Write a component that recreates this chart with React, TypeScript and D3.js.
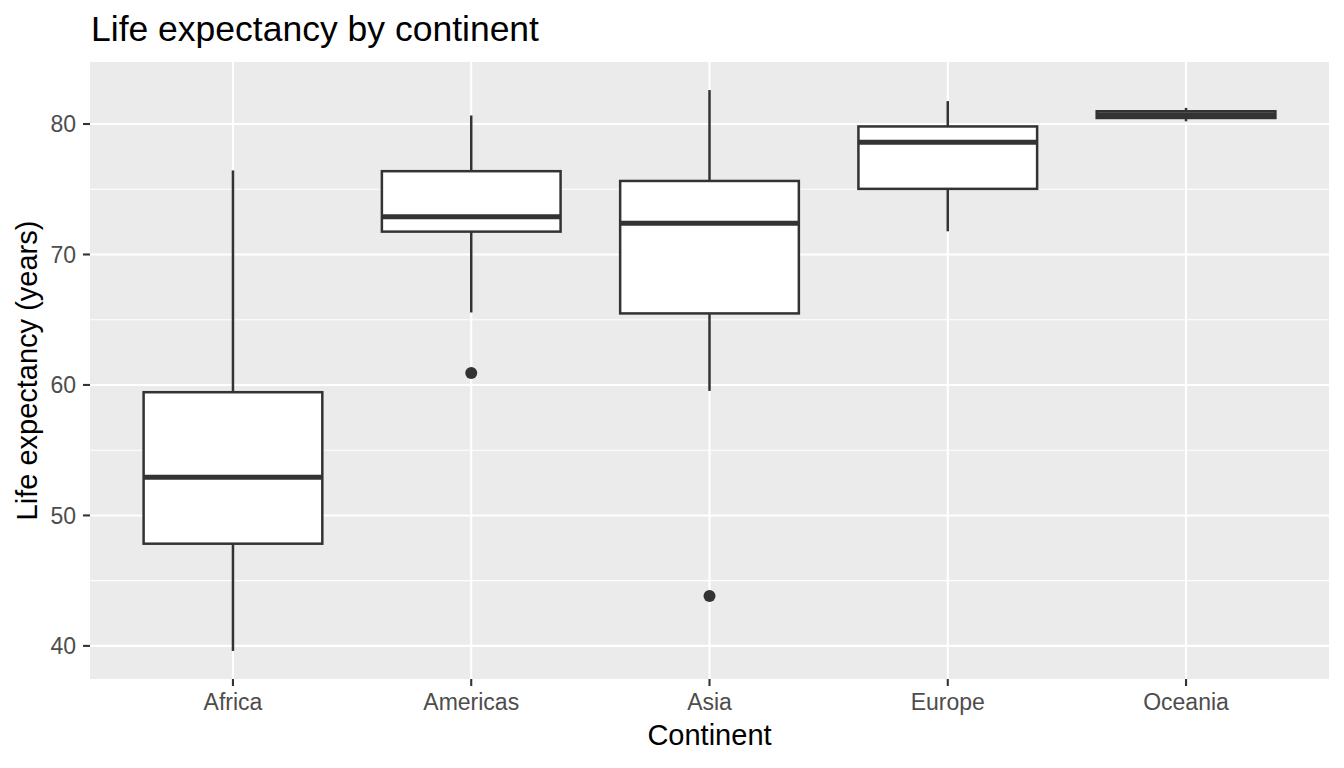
import { useEffect, useRef } from 'react';
import * as d3 from 'd3';

// gapminder 2007, life expectancy by continent
const continents = ['Africa', 'Americas', 'Asia', 'Europe', 'Oceania'];
const whiskerLow = [39.613, 65.554, 59.545, 71.777, 80.204];
const q1 = [47.834, 71.752, 65.483, 75.03, 80.462];
const median = [52.927, 72.899, 72.396, 78.609, 80.719];
const q3 = [59.444, 76.384, 75.635, 79.812, 80.977];
const whiskerHigh = [76.442, 80.653, 82.603, 81.757, 81.235];
const outlierContinent = ['Americas', 'Asia'];
const outlierValue = [60.916, 43.828];

const yTicks = [40, 50, 60, 70, 80];
const yMinor = [45, 55, 65, 75];

const W = 1344;
const H = 768;
const FONT = 'Liberation Sans, Arial, Helvetica, sans-serif';
const INK = '#333333';
const LW = 2.5;

export default function App() {
  const svgRef = useRef<SVGSVGElement | null>(null);

  useEffect(() => {
    document.body.style.margin = '0';
    if (!svgRef.current) return;
    const svg = d3.select(svgRef.current);
    svg.selectAll('*').remove();

    const panel = { left: 90, top: 62, right: 1329, bottom: 679 };

    // discrete scale, ggplot's 0.6 expansion on each side
    const x = d3.scalePoint<string>()
      .domain(continents)
      .range([panel.left, panel.right])
      .padding(0.6);
    const step = x.step();
    const boxW = step * 0.75;

    const allVals = [...whiskerLow, ...whiskerHigh, ...outlierValue];
    const lo = d3.min(allVals)!;
    const hi = d3.max(allVals)!;
    const pad = (hi - lo) * 0.05;
    const y = d3.scaleLinear().domain([lo - pad, hi + pad]).range([panel.bottom, panel.top]);

    svg.append('rect')
      .attr('x', panel.left).attr('y', panel.top)
      .attr('width', panel.right - panel.left).attr('height', panel.bottom - panel.top)
      .attr('fill', '#EBEBEB');

    const grid = svg.append('g');
    yMinor.forEach(v => {
      grid.append('line')
        .attr('x1', panel.left).attr('x2', panel.right)
        .attr('y1', y(v)).attr('y2', y(v))
        .attr('stroke', '#fff').attr('stroke-width', 1.1);
    });
    yTicks.forEach(v => {
      grid.append('line')
        .attr('x1', panel.left).attr('x2', panel.right)
        .attr('y1', y(v)).attr('y2', y(v))
        .attr('stroke', '#fff').attr('stroke-width', 2.1);
    });
    continents.forEach(c => {
      grid.append('line')
        .attr('x1', x(c)!).attr('x2', x(c)!)
        .attr('y1', panel.top).attr('y2', panel.bottom)
        .attr('stroke', '#fff').attr('stroke-width', 2.1);
    });

    // boxes
    const boxes = svg.append('g');
    continents.forEach((c, i) => {
      const cx = x(c)!;
      const g = boxes.append('g');
      g.append('line')
        .attr('x1', cx).attr('x2', cx)
        .attr('y1', y(q3[i])).attr('y2', y(whiskerHigh[i]))
        .attr('stroke', INK).attr('stroke-width', LW);
      g.append('line')
        .attr('x1', cx).attr('x2', cx)
        .attr('y1', y(q1[i])).attr('y2', y(whiskerLow[i]))
        .attr('stroke', INK).attr('stroke-width', LW);
      g.append('rect')
        .attr('x', cx - boxW / 2).attr('y', y(q3[i]))
        .attr('width', boxW).attr('height', y(q1[i]) - y(q3[i]))
        .attr('fill', '#fff')
        .attr('stroke', INK).attr('stroke-width', LW);
      g.append('line')
        .attr('x1', cx - boxW / 2).attr('x2', cx + boxW / 2)
        .attr('y1', y(median[i])).attr('y2', y(median[i]))
        .attr('stroke', INK).attr('stroke-width', LW * 2)
        .attr('stroke-linecap', 'butt');
    });

    outlierContinent.forEach((c, i) => {
      svg.append('circle')
        .attr('cx', x(c)!).attr('cy', y(outlierValue[i]))
        .attr('r', 6)
        .attr('fill', INK);
    });

    // y axis
    const yAxis = svg.append('g');
    yTicks.forEach(v => {
      yAxis.append('line')
        .attr('x1', panel.left - 7).attr('x2', panel.left)
        .attr('y1', y(v)).attr('y2', y(v))
        .attr('stroke', INK).attr('stroke-width', 2.1);
      yAxis.append('text')
        .attr('x', panel.left - 14).attr('y', y(v))
        .attr('dy', '0.36em')
        .attr('text-anchor', 'end')
        .attr('font-family', FONT).attr('font-size', 23)
        .attr('fill', '#4D4D4D')
        .text(v);
    });

    // x axis
    const xAxis = svg.append('g');
    continents.forEach(c => {
      xAxis.append('line')
        .attr('x1', x(c)!).attr('x2', x(c)!)
        .attr('y1', panel.bottom).attr('y2', panel.bottom + 7)
        .attr('stroke', INK).attr('stroke-width', 2.1);
      xAxis.append('text')
        .attr('x', x(c)!).attr('y', 710)
        .attr('text-anchor', 'middle')
        .attr('font-family', FONT).attr('font-size', 23)
        .attr('fill', '#4D4D4D')
        .text(c);
    });

    svg.append('text')
      .attr('x', (panel.left + panel.right) / 2).attr('y', 745)
      .attr('text-anchor', 'middle')
      .attr('font-family', FONT).attr('font-size', 29)
      .attr('fill', '#000')
      .text('Continent');

    svg.append('text')
      .attr('transform', `translate(37, ${(panel.top + panel.bottom) / 2}) rotate(-90)`)
      .attr('text-anchor', 'middle')
      .attr('font-family', FONT).attr('font-size', 29)
      .attr('fill', '#000')
      .text('Life expectancy (years)');

    svg.append('text')
      .attr('x', 91).attr('y', 41)
      .attr('font-family', FONT).attr('font-size', 35.5)
      .attr('fill', '#000')
      .text('Life expectancy by continent');
  }, []);

  return (
    <svg ref={svgRef} width={W} height={H} style={{ display: 'block', background: '#fff' }}></svg>
  );
}
